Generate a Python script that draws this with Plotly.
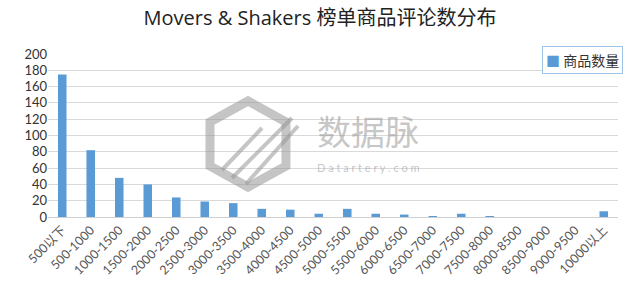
import plotly.graph_objects as go

categories = ["500以下", "500-1000", "1000-1500", "1500-2000", "2000-2500", "2500-3000",
              "3000-3500", "3500-4000", "4000-4500", "4500-5000", "5000-5500", "5500-6000",
              "6000-6500", "6500-7000", "7000-7500", "7500-8000", "8000-8500", "8500-9000",
              "9000-9500", "10000以上"]
counts = [175, 82, 48, 40, 24, 19, 17, 10, 9, 4, 10, 4, 3, 1, 4, 1, 0, 0, 0, 7]
y_ticks = list(range(0, 201, 20))
series_name = "商品数量"

W, H = 640, 293
L, R, T, B = 48, 22, 54, 76
pw, ph = W - L - R, H - T - B

def px(x):
    return (x - L) / pw

def py(y):
    return (H - B - y) / ph

BLUE = "#5B9BD5"
fig = go.Figure()
fig.add_trace(go.Bar(x=categories, y=counts, name=series_name,
                     marker=dict(color=BLUE, line=dict(width=0))))

wm = "rgba(150,150,150,0.55)"
hexpts = [(248, 101), (286, 122), (286, 166), (248, 187), (210, 166), (210, 122)]
path = "M " + " L ".join(f"{px(a):.4f},{py(b):.4f}" for a, b in hexpts) + " Z"
shapes = [dict(type="path", path=path, xref="paper", yref="paper",
               line=dict(color=wm, width=9), fillcolor="rgba(0,0,0,0)", layer="above")]
for (x0, y0, x1, y1) in [(222, 170, 262, 128), (232, 178, 292, 118), (246, 184, 298, 126)]:
    shapes.append(dict(type="line", xref="paper", yref="paper",
                       x0=px(x0), y0=py(y0), x1=px(x1), y1=py(y1),
                       line=dict(color=wm, width=4), layer="above"))

fig.update_layout(
    width=W, height=H,
    margin=dict(l=L, r=R, t=T, b=B),
    paper_bgcolor="white", plot_bgcolor="white",
    bargap=0.7,
    font=dict(family="Lato, 'Noto Sans CJK SC', sans-serif", color="#333"),
    title=dict(text="Movers & Shakers 榜单商品评论数分布", x=0.5, xanchor="center",
               y=1 - 18 / H, yanchor="middle",
               font=dict(size=20, color="#222", family="'Open Sans', 'Noto Sans CJK SC', sans-serif")),
    showlegend=False,
    xaxis=dict(type="category", tickangle=-45, tickfont=dict(size=12.5, color="#555"),
               showline=True, linecolor="#d0d0d0", linewidth=1, ticks="", showgrid=False),
    yaxis=dict(range=[0, 200], tickvals=y_ticks, showgrid=True, gridcolor="#d9d9d9",
               gridwidth=1, zeroline=False, tickfont=dict(size=13, color="#333"),
               ticks="", showline=False),
    shapes=shapes,
    annotations=[
        dict(text="数据脉", xref="paper", yref="paper", x=px(368), y=py(157),
             yanchor="bottom", showarrow=False,
             font=dict(size=34, color=wm, family="'Noto Sans CJK SC'")),
        dict(text="D a t a r t e r y . c o m", xref="paper", yref="paper", x=px(368), y=py(159),
             yanchor="top", showarrow=False, font=dict(size=11, color=wm, family="Lato")),
        dict(text=f"<span style='color:{BLUE}'>■</span> {series_name}",
             xref="paper", yref="paper", x=px(623), y=py(46), xanchor="right", yanchor="top",
             showarrow=False, bordercolor="#9DC3E6", borderwidth=1, borderpad=3,
             bgcolor="white", font=dict(size=14, color="#333", family="'Noto Sans CJK SC'")),
    ],
)

fig.write_html("out.html")
